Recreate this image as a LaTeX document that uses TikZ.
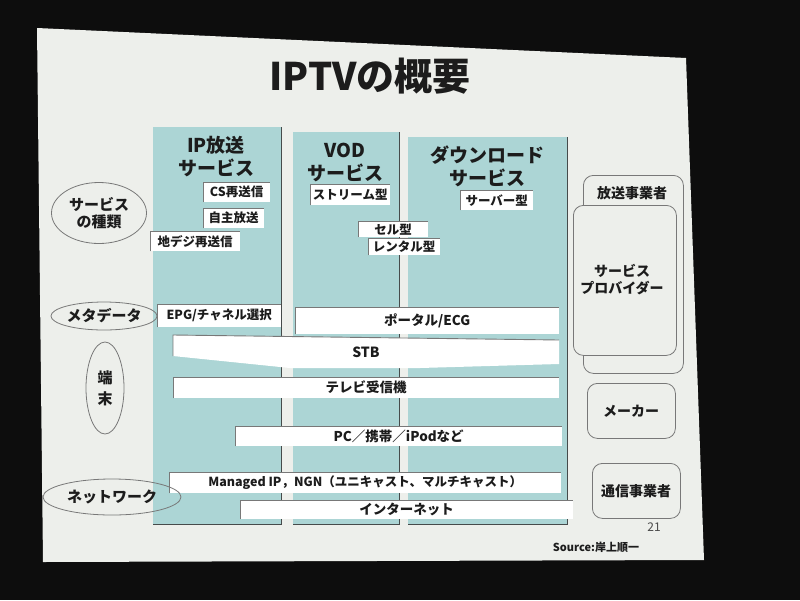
\documentclass[tikz,border=0pt]{standalone}
\usepackage{fontspec}
\setmainfont{Noto Sans CJK JP}
\usetikzlibrary{shapes.geometric}
\definecolor{tealcol}{RGB}{172,213,213}
\definecolor{slidebg}{RGB}{237,239,235}
\definecolor{ink}{RGB}{28,28,28}
\definecolor{edgegray}{RGB}{120,120,120}
\definecolor{shadowgray}{RGB}{70,75,75}
\newcommand{\fs}[1]{\fontsize{#1}{#1}\selectfont}
\tikzset{
  colbox/.style={fill=tealcol, draw=none, anchor=north west, inner sep=0pt},
  colshadow/.style={draw=shadowgray, line width=1.2pt},
  barbox/.style={fill=white, draw=none, anchor=north west, inner sep=0pt, text=ink, font=\bfseries\fs{13.5}},
  barshadow/.style={draw=edgegray, line width=0.9pt},
  labbox/.style={fill=white, draw=none, anchor=north west, inner sep=0pt, text=ink, font=\bfseries\fs{12.5}},
  header/.style={text=ink, font=\bfseries\fs{19}, align=center, inner sep=0pt},
  oval/.style={ellipse, draw=edgegray, line width=0.8pt, inner sep=0pt, text=ink, font=\bfseries\fs{15}, align=center},
  rbox/.style={draw=edgegray, line width=0.8pt, rounded corners=10pt, fill=slidebg, anchor=north west, inner sep=0pt},
  rtext/.style={text=ink, font=\bfseries\fs{14}, align=center, inner sep=0pt},
}
\begin{document}
\begin{tikzpicture}[x=1pt,y=-1pt]
\useasboundingbox (0,0) rectangle (800,600);
\fill[black!95] (0,0) rectangle (800,600);
\fill[slidebg] (37,28) -- (686,58) -- (704,560) -- (43,562) -- cycle;

% title
\node[text=ink, font=\bfseries\fs{38}, inner sep=0pt] (title) at (370,76) {IPTVの概要};

% columns
\node[colbox, minimum width=128pt, minimum height=397pt] (c1) at (153,127) {};
\node[colbox, minimum width=106pt, minimum height=392pt] (c2) at (293,132) {};
\node[colbox, minimum width=159pt, minimum height=387pt] (c3) at (408,137) {};
\draw[colshadow] (c1.north east) -- (c1.south east) -- (c1.south west);
\draw[colshadow] (c2.north east) -- (c2.south east) -- (c2.south west);
\draw[colshadow] (c3.north east) -- (c3.south east) -- (c3.south west);

% headers
\node[header] (h1) at (216,157) {IP放送\\[4pt]サービス};
\node[header] (h2) at (345,162) {VOD\\[4pt]サービス};
\node[header] (h3) at (487,166) {ダウンロード\\[4pt]サービス};

% service labels
\foreach \n/\x/\y/\w/\h/\t in {
  cs/203/182/67/20/CS再送信,
  jishu/203/208/61/20/自主放送,
  chideji/150/231/90/20/地デジ再送信,
  stream/310/184/80/21/ストリーム型,
  server/460/190/73/20/サーバー型,
  cell/358/221/70/16/セル型,
  rental/368/238/72/17/レンタル型}{
  \node[labbox, minimum width=\w pt, minimum height=\h pt] (\n) at (\x,\y) {\t};
  \draw[barshadow] (\n.south west) -- (\n.north west) -- (\n.north east);
}

% bars
\foreach \n/\x/\y/\w/\h/\t in {
  epg/157/304/124/23/{\fs{12.5}EPG/チャネル選択},
  portal/295/307/264/27/{ポータル/ECG},
  tv/173/377/386/21/テレビ受信機,
  pc/235/426/327/20/PC／携帯／iPodなど,
  managed/169/472/392/21/{\fs{12.5}Managed IP，NGN（ユニキャスト、マルチキャスト）},
  internet/240/500/333/19/インターネット}{
  \node[barbox, minimum width=\w pt, minimum height=\h pt] (\n) at (\x,\y) {\t};
  \draw[barshadow] (\n.south west) -- (\n.north west) -- (\n.north east);
}

% STB funnel bar
\coordinate (s1) at (173,335);
\coordinate (s2) at (559,340);
\coordinate (s3) at (559,364);
\coordinate (s4) at (420,368);
\coordinate (s5) at (290,368);
\coordinate (s6) at (173,356);
\fill[white] (s1) -- (s2) -- (s3) -- (s4) -- (s5) -- (s6) -- cycle;
\draw[barshadow] (s6) -- (s1) -- (s2);
\node[text=ink, font=\bfseries\fs{14}, inner sep=0pt] (stb) at (366,352) {STB};

% left ovals
\node[oval, minimum width=95pt, minimum height=61pt] (e1) at (99,213) {サービス\\[2pt]の種類};
\node[oval, minimum width=101pt, minimum height=28pt] (e2) at (104,316) {メタデータ};
\node[oval, minimum width=38pt, minimum height=92pt] (e3) at (105,388) {端\\[6pt]末};
\node[oval, minimum width=138pt, minimum height=36pt] (e4) at (112,497) {ネットワーク};

% right boxes
\node[rbox, minimum width=100pt, minimum height=198pt] (b1) at (583,175) {};
\node[rtext] (b1t) at (632,193) {放送事業者};
\node[rbox, minimum width=103pt, minimum height=150pt] (b2) at (573,205) {};
\node[rtext] (b2t) at (622,280) {サービス\\[3pt]プロバイダー};
\node[rbox, minimum width=88pt, minimum height=55pt] (b3) at (587,383) {};
\node[rtext] (b3t) at (631,411) {メーカー};
\node[rbox, minimum width=88pt, minimum height=55pt] (b4) at (592,463) {};
\node[rtext] (b4t) at (636,491) {通信事業者};

% footer
\node[text=ink!80, font=\fs{12}, inner sep=0pt] (pg) at (654,527) {21};
\node[text=ink, font=\bfseries\fs{11}, inner sep=0pt] (src) at (596,547) {Source:岸上順一};
\end{tikzpicture}
\end{document}
